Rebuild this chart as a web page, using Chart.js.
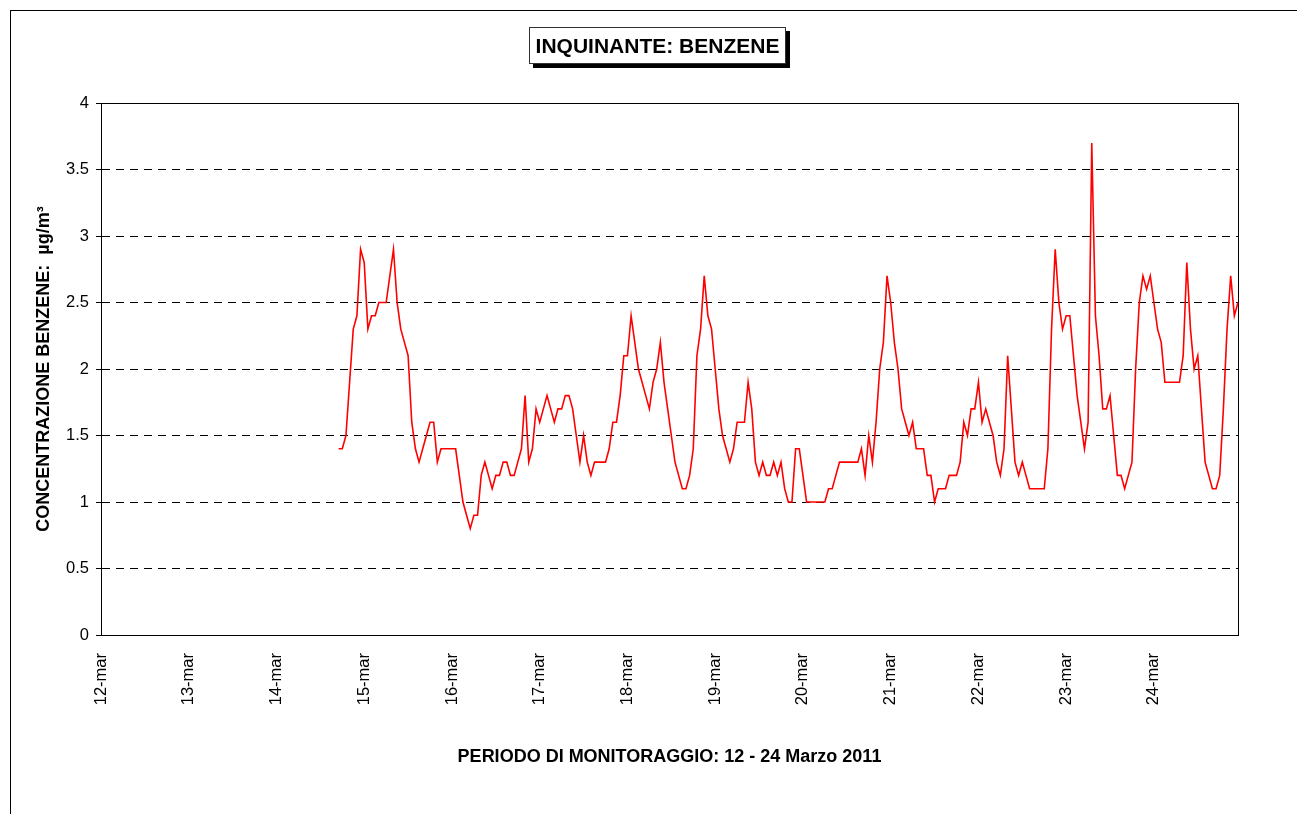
<!DOCTYPE html>
<html lang="it">
<head>
    <meta charset="UTF-8">
    <title>Inquinante: Benzene</title>
    <script src="https://cdn.jsdelivr.net/npm/chart.js"></script>
    <style>
        body { margin: 0; background: #fff; font-family: "Liberation Sans", Arial, sans-serif; }
        #cornice {
            position: absolute; left: 10px; top: 10px; width: 1400px; height: 900px;
            border-left: 1px solid #000; border-top: 1px solid #000;
        }
        #titolo {
            position: absolute; left: 529px; top: 27px; width: 255px; height: 35px;
            border: 1px solid #333; background: #fff; box-shadow: 4px 4px 0 #000;
            font: bold 21px "Liberation Sans", Arial, sans-serif; line-height: 35px; text-align: center;
        }
        #grafico { position: absolute; left: 0; top: 0; }
    </style>
</head>
<body>
    <div id="cornice"></div>
    <canvas id="grafico" width="1297" height="814"></canvas>
    <div id="titolo">INQUINANTE: BENZENE</div>

    <script>
        // giorni del periodo di monitoraggio (etichette asse x)
        const giorni = ['12-mar', '13-mar', '14-mar', '15-mar', '16-mar', '17-mar', '18-mar',
                        '19-mar', '20-mar', '21-mar', '22-mar', '23-mar', '24-mar'];
        const orePerGiorno = 24;
        // prima ora con dato valido (14-mar ore 17)
        const primaOra = 65;

        // concentrazioni orarie di benzene, µg/m³
        const benzene = [
            1.4, 1.4, 1.5, 1.9, 2.3, 2.4, 2.9, 2.8, 2.3, 2.4, 2.4, 2.5, 2.5, 2.5, 2.7, 2.9, 2.5, 2.3, 2.2, 2.1, 1.6, 1.4, 1.3, 1.4, 1.5, 1.6, 1.6,
            1.3, 1.4, 1.4, 1.4, 1.4, 1.4, 1.2, 1.0, 0.9, 0.8, 0.9, 0.9, 1.2, 1.3, 1.2, 1.1, 1.2, 1.2, 1.3, 1.3, 1.2, 1.2, 1.3, 1.4, 1.8, 1.3, 1.4,
            1.7, 1.6, 1.7, 1.8, 1.7, 1.6, 1.7, 1.7, 1.8, 1.8, 1.7, 1.5, 1.3, 1.5, 1.3, 1.2, 1.3, 1.3, 1.3, 1.3, 1.4, 1.6, 1.6, 1.8, 2.1, 2.1, 2.4,
            2.2, 2.0, 1.9, 1.8, 1.7, 1.9, 2.0, 2.2, 1.9, 1.7, 1.5, 1.3, 1.2, 1.1, 1.1, 1.2, 1.4, 2.1, 2.3, 2.7, 2.4, 2.3, 2.0, 1.7, 1.5, 1.4, 1.3,
            1.4, 1.6, 1.6, 1.6, 1.9, 1.7, 1.3, 1.2, 1.3, 1.2, 1.2, 1.3, 1.2, 1.3, 1.1, 1.0, 1.0, 1.4, 1.4, 1.2, 1.0, 1.0, 1.0, 1.0, 1.0, 1.0, 1.1,
            1.1, 1.2, 1.3, 1.3, 1.3, 1.3, 1.3, 1.3, 1.4, 1.2, 1.5, 1.3, 1.6, 2.0, 2.2, 2.7, 2.5, 2.2, 2.0, 1.7, 1.6, 1.5, 1.6, 1.4, 1.4, 1.4, 1.2, 1.2,
            1.0, 1.1, 1.1, 1.1, 1.2, 1.2, 1.2, 1.3, 1.6, 1.5, 1.7, 1.7, 1.9, 1.6, 1.7, 1.6, 1.5, 1.3, 1.2, 1.4, 2.1, 1.7, 1.3, 1.2, 1.3, 1.2, 1.1,
            1.1, 1.1, 1.1, 1.1, 1.4, 2.3, 2.9, 2.5, 2.3, 2.4, 2.4, 2.1, 1.8, 1.6, 1.4, 1.6, 3.7, 2.4, 2.1, 1.7, 1.7, 1.8, 1.5, 1.2, 1.2, 1.1, 1.2, 1.3,
            2.0, 2.5, 2.7, 2.6, 2.7, 2.5, 2.3, 2.2, 1.9, 1.9, 1.9, 1.9, 1.9, 2.1, 2.8, 2.3, 2.0, 2.1, 1.7, 1.3, 1.2, 1.1, 1.1, 1.2, 1.7, 2.3, 2.7, 2.4, 2.5
        ];

        const etichette = [];
        giorni.forEach(g => {
            for (let h = 0; h < orePerGiorno; h++) etichette.push(h === 0 ? g : '');
        });
        const valori = new Array(primaOra).fill(null).concat(benzene);

        const font = 'Liberation Sans, Arial, sans-serif';

        // riquadro dell'area del grafico (bordo pieno)
        const riquadro = {
            id: 'riquadro',
            beforeDatasetsDraw(chart) {
                const { ctx, chartArea: a } = chart;
                ctx.save();
                ctx.strokeStyle = '#000';
                ctx.lineWidth = 1;
                ctx.strokeRect(Math.round(a.left) + 0.5, Math.round(a.top) + 0.5,
                    Math.round(a.right - a.left), Math.round(a.bottom - a.top));
                ctx.restore();
            }
        };

        new Chart(document.getElementById('grafico'), {
            type: 'line',
            data: {
                labels: etichette,
                datasets: [{
                    data: valori,
                    borderColor: '#ff0000',
                    borderWidth: 1.6,
                    pointRadius: 0,
                    tension: 0,
                    fill: false
                }]
            },
            options: {
                responsive: false,
                animation: false,
                layout: { padding: { left: 0, top: 103, right: 59, bottom: 0 } },
                plugins: { legend: { display: false }, tooltip: { enabled: false } },
                scales: {
                    x: {
                        offset: false,
                        grid: { display: false },
                        border: { display: true, color: '#000', width: 1 },
                        ticks: {
                            autoSkip: false,
                            maxRotation: 90,
                            minRotation: 90,
                            padding: 10,
                            color: '#000',
                            font: { family: font, size: 16.5 }
                        },
                        title: {
                            display: true,
                            text: 'PERIODO DI MONITORAGGIO: 12 - 24 Marzo 2011',
                            color: '#000',
                            font: { family: font, size: 18, weight: 'bold' },
                            padding: { top: 0, bottom: 46 }
                        },
                        afterFit(scale) { scale.height = 179; }
                    },
                    y: {
                        min: 0,
                        max: 4,
                        ticks: {
                            stepSize: 0.5,
                            padding: 7,
                            color: '#000',
                            font: { family: font, size: 16.5 },
                            callback: v => String(v)
                        },
                        grid: {
                            color: c => (c.tick && (c.tick.value === 0 || c.tick.value === 4)) ? 'rgba(0,0,0,0)' : '#000',
                            tickColor: '#000',
                            tickLength: 5,
                            lineWidth: 1
                        },
                        border: { display: true, color: '#000', width: 1, dash: [8, 6] },
                        title: {
                            display: true,
                            text: 'CONCENTRAZIONE BENZENE:  µg/m³',
                            color: '#000',
                            font: { family: font, size: 18, weight: 'bold' },
                            padding: { top: 33, bottom: 0 }
                        },
                        afterFit(scale) { scale.width = 101; }
                    }
                }
            },
            plugins: [riquadro]
        });
    </script>
</body>
</html>
